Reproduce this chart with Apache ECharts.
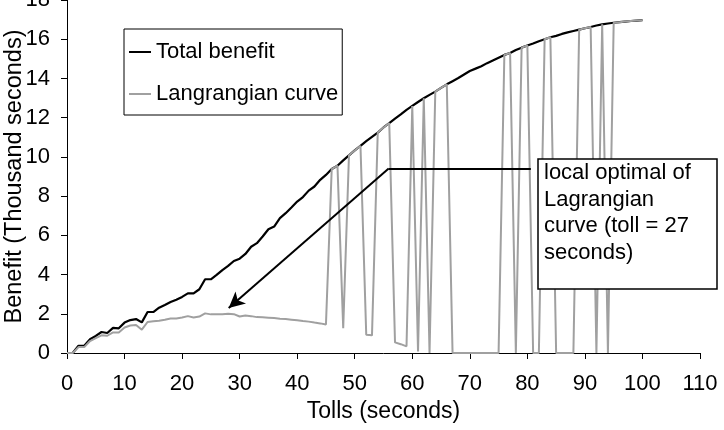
<!DOCTYPE html>
<html>
<head>
<meta charset="utf-8">
<script src="https://cdn.jsdelivr.net/npm/echarts@6/dist/echarts.min.js"></script>
<style>
  html, body { margin: 0; padding: 0; background: #fff; }
  #mydiv { width: 724px; height: 430px; }
</style>
</head>
<body>
<div id="mydiv"></div>
<script>
// tolls (seconds)
var tolls = [0, 1, 2, 3, 4, 5, 6, 7, 8, 9, 10, 11, 12, 13, 14, 15, 16, 17, 18, 19,
    20, 21, 22, 23, 24, 25, 26, 27, 28, 29, 30, 31, 32, 33, 34, 35, 36, 37, 38, 39,
    40, 41, 42, 43, 44, 45, 46, 47, 48, 49, 50, 51, 52, 53, 54, 55, 56, 57, 58, 59,
    60, 61, 62, 63, 64, 65, 66, 67, 68, 69, 70, 71, 72, 73, 74, 75, 76, 77, 78, 79,
    80, 81, 82, 83, 84, 85, 86, 87, 88, 89, 90, 91, 92, 93, 94, 95, 96, 97, 98, 99, 100];

// total benefit (thousand seconds)
var totalBenefit = [0, 0, 0.37, 0.37, 0.70, 0.87, 1.07, 1.02, 1.28, 1.26,
    1.55, 1.68, 1.73, 1.56, 2.09, 2.09, 2.31, 2.45, 2.60, 2.72,
    2.86, 3.04, 3.04, 3.25, 3.76, 3.76, 3.98, 4.23, 4.44, 4.69,
    4.81, 5.05, 5.42, 5.60, 5.94, 6.31, 6.45, 6.88, 7.13, 7.42,
    7.72, 7.95, 8.28, 8.49, 8.83, 9.08, 9.38, 9.55, 9.82, 10.08,
    10.33, 10.56, 10.80, 11.02, 11.24, 11.50, 11.72, 11.95, 12.17, 12.40,
    12.60, 12.80, 12.99, 13.16, 13.33, 13.52, 13.70, 13.86, 14.02, 14.20,
    14.38, 14.50, 14.62, 14.78, 14.92, 15.06, 15.20, 15.30, 15.45, 15.57,
    15.68, 15.78, 15.90, 16.00, 16.10, 16.17, 16.27, 16.35, 16.42, 16.49,
    16.56, 16.62, 16.70, 16.76, 16.80, 16.84, 16.87, 16.90, 16.93, 16.95, 16.97];

// langrangian curve
var lagrangian = [0, 0, 0.30, 0.30, 0.61, 0.76, 0.90, 0.88, 1.05, 1.05,
    1.30, 1.40, 1.43, 1.19, 1.58, 1.62, 1.65, 1.70, 1.76, 1.76,
    1.81, 1.88, 1.81, 1.86, 2.02, 1.97, 1.97, 1.98, 2.00, 1.98,
    1.86, 1.91, 1.88, 1.83, 1.82, 1.80, 1.78, 1.75, 1.73, 1.70,
    1.67, 1.63, 1.60, 1.55, 1.51, 1.45, 9.38, 9.55, 1.27, 10.08,
    10.33, 10.56, 0.93, 0.90, 11.24, 11.50, 11.72, 0.54, 0.45, 0.34,
    12.60, 0.08, 12.99, 0, 13.33, 13.52, 13.70, 0, 0, 0,
    0, 0, 0, 0, 0, 0, 15.20, 15.30, 0, 15.57,
    15.68, 0, 0, 16.00, 16.10, 0, 0, 0, 0, 16.49,
    16.56, 16.62, 0, 16.76, 0, 16.84, 16.87, 16.90, 16.93, 16.95, 16.97];

var xTicks = [0, 10, 20, 30, 40, 50, 60, 70, 80, 90, 100, 110];
var yTicks = [0, 2, 4, 6, 8, 10, 12, 14, 16, 18];

// callout: corner of the pointer line, end at the box, arrow tip
var calloutCorner = [55.9, 9.41];
var calloutEnd = [80.6, 9.41];
var calloutTip = [28.1, 2.29];

var font = "'Liberation Sans', Arial, sans-serif";

function pairs(xs, ys) {
    var out = [];
    for (var i = 0; i < xs.length; i++) out.push([xs[i], ys[i]]);
    return out;
}

var echart = echarts.init(document.getElementById("mydiv"));

var option = {
    animation: false,
    backgroundColor: "#fff",
    textStyle: { fontFamily: font },
    grid: { left: 67, right: 24, top: 0, bottom: 77, containLabel: false, outerBoundsMode: "none" },
    legend: {
        orient: "vertical",
        left: 124,
        top: 29,
        padding: [12, 4, 10, 5],
        itemGap: 20,
        itemWidth: 22,
        itemHeight: 2,
        icon: "rect",
        borderColor: "#000",
        borderWidth: 1,
        backgroundColor: "#fff",
        textStyle: { fontFamily: font, fontSize: 22, color: "#000" },
        data: ["Total benefit", "Langrangian curve"]
    },
    xAxis: {
        type: "value",
        min: xTicks[0],
        max: xTicks[xTicks.length - 1],
        interval: 10,
        name: "Tolls (seconds)",
        nameLocation: "middle",
        nameGap: 47,
        nameMoveOverlap: false,
        nameTextStyle: { fontFamily: font, fontSize: 23, color: "#000" },
        axisLine: { lineStyle: { color: "#000", width: 1 } },
        axisTick: { show: true, inside: false, length: 6, lineStyle: { color: "#000" } },
        axisLabel: { fontFamily: font, fontSize: 22, color: "#000", margin: 20 },
        splitLine: { show: false }
    },
    yAxis: {
        type: "value",
        min: yTicks[0],
        max: yTicks[yTicks.length - 1],
        interval: 2,
        name: "Benefit (Thousand seconds)",
        nameLocation: "middle",
        nameGap: 40,
        nameMoveOverlap: false,
        nameTextStyle: { fontFamily: font, fontSize: 23.5, color: "#000" },
        axisLine: { show: true, lineStyle: { color: "#000", width: 1 } },
        axisTick: { show: true, inside: false, length: 6, lineStyle: { color: "#000" } },
        axisLabel: { fontFamily: font, fontSize: 22, color: "#000", margin: 17 },
        splitLine: { show: false }
    },
    series: [{
        name: "Total benefit",
        type: "line",
        data: pairs(tolls, totalBenefit),
        symbol: "none",
        color: "#000",
        lineStyle: { color: "#000", width: 2.2 },
        markLine: {
            silent: true,
            symbol: ["none", "none"],
            label: { show: false },
            lineStyle: { color: "#000", width: 2, type: "solid" },
            data: [
                [{ coord: calloutCorner }, { coord: calloutEnd }],
                [{ coord: calloutCorner }, { coord: calloutTip, symbol: "arrow", symbolSize: [12, 16] }]
            ]
        }
    }, {
        name: "Langrangian curve",
        type: "line",
        data: pairs(tolls, lagrangian),
        symbol: "none",
        color: "#a0a0a0",
        lineStyle: { color: "#a0a0a0", width: 2 }
    }],
    graphic: [{
        type: "rect",
        z: 100,
        zlevel: 1,
        shape: { x: 538, y: 159, width: 179, height: 130 },
        style: { fill: "#fff", stroke: "#000", lineWidth: 1.5 }
    }, {
        type: "text",
        z: 101,
        zlevel: 1,
        x: 544,
        y: 160,
        style: {
            text: "local optimal of\nLagrangian\ncurve (toll = 27\nseconds)",
            font: "22px " + font,
            fill: "#000",
            lineHeight: 26.5,
            verticalAlign: "top"
        }
    }]
};

echart.setOption(option);
</script>
</body>
</html>
